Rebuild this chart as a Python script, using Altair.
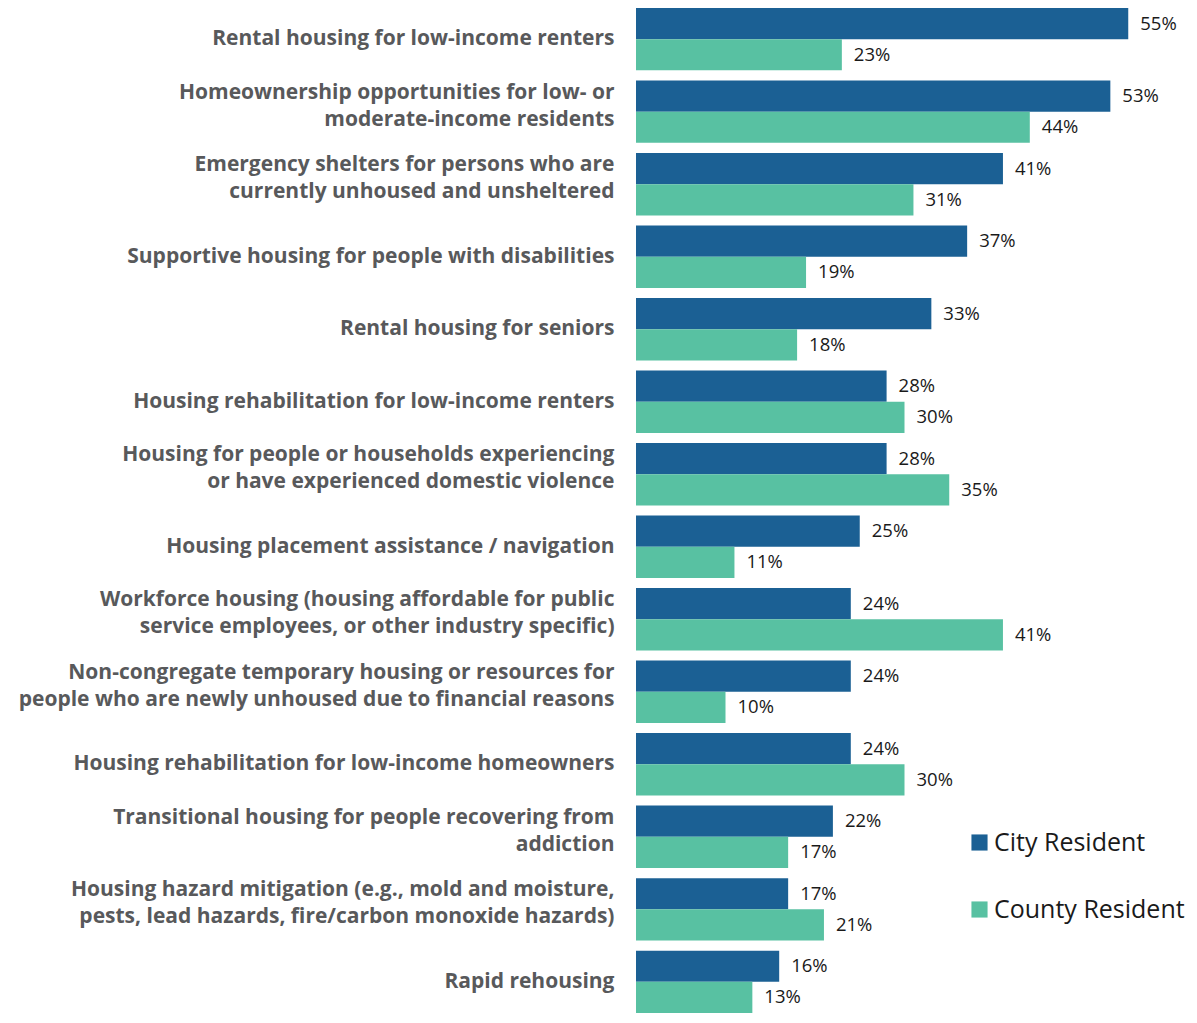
import altair as alt
import pandas as pd

categories = [
    "Rental housing for low-income renters",
    "Homeownership opportunities for low- or|moderate-income residents",
    "Emergency shelters for persons who are|currently unhoused and unsheltered",
    "Supportive housing for people with disabilities",
    "Rental housing for seniors",
    "Housing rehabilitation for low-income renters",
    "Housing for people or households experiencing|or have experienced domestic violence",
    "Housing placement assistance / navigation",
    "Workforce housing (housing affordable for public|service employees, or other industry specific)",
    "Non-congregate temporary housing or resources for|people who are newly unhoused due to financial reasons",
    "Housing rehabilitation for low-income homeowners",
    "Transitional housing for people recovering from|addiction",
    "Housing hazard mitigation (e.g., mold and moisture,|pests, lead hazards, fire/carbon monoxide hazards)",
    "Rapid rehousing",
]
series = ["City Resident", "County Resident"]
city = [55, 53, 41, 37, 33, 28, 28, 25, 24, 24, 24, 22, 17, 16]
county = [23, 44, 31, 19, 18, 30, 35, 11, 41, 10, 30, 17, 21, 13]
colors = ["#1B6094", "#58C1A2"]

rows = []
for c, a, b in zip(categories, city, county):
    rows.append({"cat": c, "series": series[0], "value": a, "label": f"{a}%"})
    rows.append({"cat": c, "series": series[1], "value": b, "label": f"{b}%"})
df = pd.DataFrame(rows)

y_enc = alt.Y(
    "cat:N",
    sort=categories,
    title=None,
    scale=alt.Scale(paddingInner=0.14, paddingOuter=0.0),
    axis=alt.Axis(
        labelExpr="split(datum.value, '|')",
        labelFont="Open Sans",
        labelFontSize=21,
        labelFontWeight="bold",
        labelColor="#58595B",
        labelLineHeight=27,
        labelPadding=22,
        labelLimit=700,
        labelOffset={"condition": {"test": "indexof(datum.value, '|') >= 0", "value": -19}, "value": 0},
        ticks=False,
        domain=False,
        grid=False,
        minExtent=628,
        maxExtent=628,
    ),
)
yoff = alt.YOffset("series:N", sort=series)

base = alt.Chart(df)

bars = base.mark_bar().encode(
    x=alt.X("value:Q", scale=alt.Scale(domain=[0, 60]), axis=None),
    y=y_enc,
    yOffset=yoff,
    color=alt.Color(
        "series:N",
        sort=series,
        scale=alt.Scale(domain=series, range=colors),
        legend=alt.Legend(
            title=None,
            orient="none",
            legendX=331,
            legendY=822,
            symbolType="square",
            symbolSize=260,
            symbolStrokeWidth=0,
            labelFont="Open Sans",
            labelFontSize=25,
            labelColor="#1a1a1a",
            labelLimit=400,
            rowPadding=41,
            labelOffset=2,
        ),
    ),
)

texts = base.mark_text(
    align="left", baseline="middle", dx=12, font="Open Sans", fontSize=18.5, color="#1a1a1a"
).encode(
    x=alt.X("value:Q", axis=None),
    y=y_enc,
    yOffset=yoff,
    text="label:N",
)

chart = (
    alt.layer(bars, texts)
    .properties(
        width=537,
        height=1005,
        padding=0,
        view=alt.ViewBackground(stroke="transparent", strokeWidth=0, fill="white"),
    )
    .configure_view(strokeWidth=0, stroke="transparent")
    .configure_axis(grid=False, domain=False)
    .configure(background="white")
)

chart.save("out.html", embed_options={"renderer": "svg", "actions": False})
